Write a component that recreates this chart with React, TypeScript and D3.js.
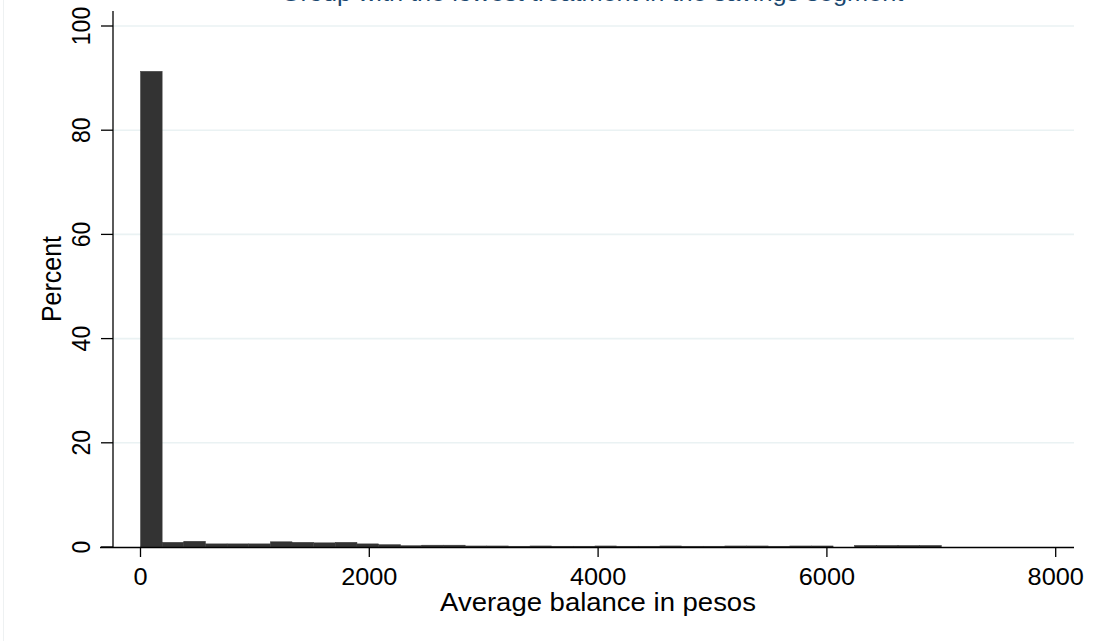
import React from "react";
import * as d3 from "d3";

// Histogram of average balance (percent of observations per bin)
const xMax = 7000;
const binCount = 37;
const percent: number[] = [
  91.3, 0.9, 1.1, 0.6, 0.6, 0.6, 1.0, 0.9, 0.8, 0.9,
  0.6, 0.45, 0.25, 0.35, 0.35, 0.2, 0.2, 0.15, 0.2, 0.15,
  0.15, 0.2, 0.15, 0.15, 0.2, 0.15, 0.15, 0.2, 0.2, 0.15,
  0.2, 0.2, 0, 0.3, 0.3, 0.3, 0.3,
];
const xTicks: number[] = [0, 2000, 4000, 6000, 8000];
const yTicks: number[] = [0, 20, 40, 60, 80, 100];
const title = "Group with the lowest treatment in the savings segment";
const xTitle = "Average balance in pesos";
const yTitle = "Percent";

const W = 1105;
const H = 641;
const FONT = "'Liberation Sans', Arial, Helvetica, sans-serif";
const SX = 1.1; // horizontal stretch of text seen in the reference

export default function App() {
  const x = d3.scaleLinear().domain([0, 8000]).range([140.5, 1055.7]);
  const y = d3.scaleLinear().domain([0, 100]).range([547, 26]);
  const binWidth = xMax / binCount;
  const bins = percent.map((v, i) => ({ x0: i * binWidth, x1: (i + 1) * binWidth, v }));

  const axisX0 = 113;
  const axisX1 = 1074;
  const axisY = 547.5;

  return (
    <svg
      width={W}
      height={H}
      style={{ position: "absolute", left: 0, top: 0, background: "#ffffff" }}
      fontFamily={FONT}
    >
      <rect x={0} y={0} width={W} height={H} fill="#ffffff" />
      <line x1={3.5} x2={3.5} y1={0} y2={H} stroke="#eef1f2" strokeWidth={1} />
      {/* title, mostly cut off at top */}
      <text
        transform={`translate(592,1) scale(${SX},1)`}
        textAnchor="middle"
        fontSize={23}
        fill="#1a476f"
      >
        {title}
      </text>
      {/* gridlines */}
      {yTicks.filter((t) => t > 0).map((t) => (
        <line
          key={"g" + t}
          x1={axisX0}
          x2={axisX1}
          y1={y(t)}
          y2={y(t)}
          stroke="#eaf2f3"
          strokeWidth={1.6}
        />
      ))}
      {/* bars */}
      {bins.filter((b) => b.v > 0).map((b, i) => (
        <rect
          key={"b" + i}
          x={x(b.x0)}
          y={y(b.v)}
          width={x(b.x1) - x(b.x0)}
          height={y(0) - y(b.v)}
          fill="#333333"
          stroke="#3a3a3a"
          strokeWidth={0.5}
        />
      ))}
      {/* y axis */}
      <line x1={axisX0} x2={axisX0} y1={11} y2={axisY} stroke="#000" strokeWidth={1.3} />
      {yTicks.map((t) => (
        <g key={"yt" + t}>
          <line x1={101} x2={axisX0} y1={y(t)} y2={y(t)} stroke="#000" strokeWidth={1.3} />
          <text
            transform={`translate(${90},${y(t)}) scale(${SX},1) rotate(-90)`}
            textAnchor="middle"
            fontSize={23}
            fill="#000"
          >
            {t}
          </text>
        </g>
      ))}
      <text
        transform={`translate(${61},${279}) scale(${SX},1) rotate(-90)`}
        textAnchor="middle"
        fontSize={25}
        fill="#000"
      >
        {yTitle}
      </text>
      {/* x axis */}
      <line x1={100} x2={axisX1} y1={axisY} y2={axisY} stroke="#000" strokeWidth={1.3} />
      {xTicks.map((t) => (
        <g key={"xt" + t}>
          <line x1={x(t)} x2={x(t)} y1={axisY} y2={557} stroke="#000" strokeWidth={1.3} />
          <text
            transform={`translate(${x(t)},585) scale(${SX},1)`}
            textAnchor="middle"
            fontSize={23}
            fill="#000"
          >
            {t}
          </text>
        </g>
      ))}
      <text
        transform={`translate(598,611) scale(${SX},1)`}
        textAnchor="middle"
        fontSize={25}
        fill="#000"
      >
        {xTitle}
      </text>
    </svg>
  );
}
